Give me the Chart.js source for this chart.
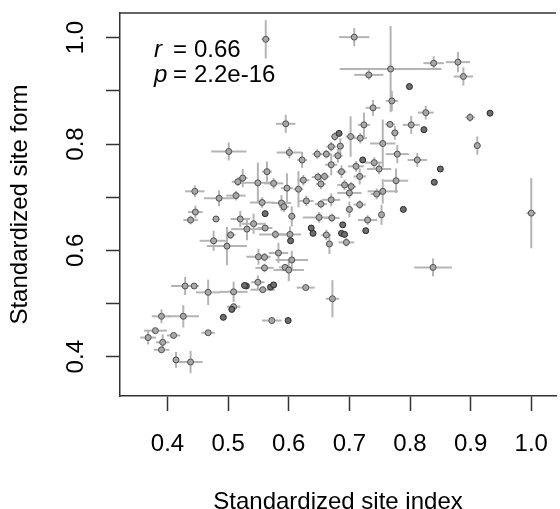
<!DOCTYPE html>
<html>
<head>
<meta charset="utf-8">
<title>Site form vs site index</title>
<script src="https://cdn.jsdelivr.net/npm/chart.js@4.4.1/dist/chart.umd.min.js"></script>
<style>
  html, body { margin: 0; padding: 0; background: #fff; }
  #wrap { width: 560px; height: 509px; }
</style>
</head>
<body>
<div id="wrap"><canvas id="siteChart" width="560" height="509"></canvas></div>
<script>
// Standardized site index (x) and its error half-widths
const siteIndex = [
  0.562, 0.595, 0.501, 0.601, 0.622, 0.647, 0.670, 0.676, 0.683, 0.685,
  0.445, 0.485, 0.513, 0.516, 0.524, 0.549, 0.564, 0.575, 0.597, 0.616,
  0.624, 0.556, 0.588, 0.629, 0.708, 0.768, 0.839, 0.879, 0.888, 0.732,
  0.799, 0.770, 0.739, 0.826, 0.899, 0.932, 0.823, 0.802, 0.767, 0.724,
  0.775, 0.702, 0.718, 0.755, 0.779, 0.812, 0.722, 0.741, 0.911, 0.850,
  0.840, 0.777, 0.749, 0.755, 0.745, 0.717, 0.789, 1.000, 0.700, 0.671,
  0.730, 0.753, 0.727, 0.689, 0.687, 0.692, 0.695, 0.667, 0.838, 0.672,
  0.681, 0.670, 0.687, 0.711, 0.717, 0.692, 0.700, 0.670, 0.703, 0.446,
  0.438, 0.480, 0.520, 0.542, 0.531, 0.561, 0.578, 0.602, 0.603, 0.561,
  0.605, 0.504, 0.476, 0.498, 0.550, 0.560, 0.583, 0.605, 0.560, 0.594,
  0.600, 0.429, 0.444, 0.467, 0.509, 0.530, 0.527, 0.549, 0.557, 0.570,
  0.575, 0.628, 0.509, 0.506, 0.492, 0.572, 0.599, 0.390, 0.426, 0.380,
  0.410, 0.368, 0.392, 0.390, 0.414, 0.438, 0.467, 0.648, 0.659, 0.653,
  0.592, 0.653, 0.650, 0.637, 0.640, 0.662, 0.662
];
const siteIndexErr = [
  0.007, 0.016, 0.029, 0.021, 0.008, 0.008, 0.008, 0.006, 0, 0.006,
  0.016, 0.025, 0.016, 0.010, 0.008, 0.033, 0.008, 0.016, 0.010, 0.008,
  0.010, 0.020, 0.016, 0.012, 0.025, 0.084, 0.017, 0.020, 0.016, 0.024,
  0, 0.010, 0.012, 0.013, 0.008, 0, 0, 0.014, 0.008, 0.010,
  0.006, 0.008, 0.011, 0.021, 0.019, 0.016, 0, 0.015, 0.005, 0,
  0, 0.020, 0.020, 0.025, 0.010, 0.010, 0, 0.008, 0.006, 0.013,
  0.016, 0.004, 0, 0, 0, 0, 0.013, 0.006, 0.031, 0.011,
  0.008, 0.010, 0.008, 0.013, 0.010, 0.012, 0.020, 0.015, 0.008, 0.012,
  0.012, 0.006, 0.016, 0.020, 0.026, 0.012, 0.027, 0.018, 0, 0,
  0.006, 0.008, 0.023, 0.033, 0.020, 0.008, 0.016, 0.027, 0.015, 0.010,
  0.025, 0.023, 0.006, 0.020, 0.023, 0, 0, 0.011, 0.020, 0,
  0, 0.015, 0.011, 0, 0, 0.016, 0, 0.016, 0.026, 0.019,
  0.011, 0.013, 0.011, 0.013, 0.004, 0.020, 0.011, 0.010, 0.008, 0.008,
  0.008, 0.010, 0.027, 0, 0, 0.008, 0.008
];
// Standardized site form (y) and its error half-heights
const siteForm = [
  0.997, 0.838, 0.786, 0.784, 0.770, 0.781, 0.795, 0.814, 0.820, 0.796,
  0.711, 0.698, 0.703, 0.729, 0.736, 0.727, 0.748, 0.726, 0.717, 0.715,
  0.732, 0.690, 0.689, 0.693, 1.001, 0.941, 0.952, 0.954, 0.927, 0.930,
  0.908, 0.881, 0.868, 0.859, 0.850, 0.858, 0.827, 0.836, 0.837, 0.836,
  0.821, 0.814, 0.811, 0.801, 0.781, 0.770, 0.770, 0.765, 0.797, 0.753,
  0.728, 0.731, 0.753, 0.711, 0.706, 0.686, 0.677, 0.670, 0.677, 0.661,
  0.657, 0.667, 0.637, 0.648, 0.632, 0.630, 0.615, 0.612, 0.568, 0.509,
  0.778, 0.761, 0.748, 0.758, 0.739, 0.723, 0.708, 0.695, 0.720, 0.672,
  0.657, 0.659, 0.659, 0.650, 0.640, 0.642, 0.630, 0.630, 0.618, 0.669,
  0.664, 0.629, 0.618, 0.608, 0.588, 0.587, 0.595, 0.582, 0.567, 0.568,
  0.563, 0.533, 0.533, 0.521, 0.522, 0.533, 0.534, 0.540, 0.526, 0.531,
  0.535, 0.530, 0.494, 0.489, 0.474, 0.468, 0.468, 0.476, 0.476, 0.449,
  0.440, 0.436, 0.427, 0.413, 0.394, 0.390, 0.445, 0.738, 0.739, 0.725,
  0.682, 0.687, 0.662, 0.642, 0.632, 0.629, 0.781
];
const siteFormErr = [
  0.036, 0.017, 0.017, 0.011, 0.015, 0.009, 0.009, 0.008, 0, 0.015,
  0.011, 0.015, 0.009, 0.008, 0.017, 0.038, 0.019, 0.010, 0.028, 0.034,
  0.010, 0.010, 0.015, 0.010, 0.017, 0.081, 0.013, 0.019, 0.017, 0.009,
  0, 0.019, 0.015, 0.013, 0.008, 0, 0, 0.017, 0.006, 0.023,
  0.013, 0.038, 0.010, 0.045, 0.017, 0.013, 0, 0.010, 0.017, 0,
  0, 0.023, 0.010, 0.023, 0.010, 0.008, 0, 0.066, 0.015, 0.008,
  0.009, 0.019, 0, 0, 0, 0, 0.008, 0.019, 0.017, 0.035,
  0.013, 0.020, 0.012, 0.010, 0.015, 0.010, 0.010, 0.012, 0.008, 0.012,
  0.008, 0.006, 0.015, 0.019, 0.021, 0.006, 0.008, 0.015, 0, 0,
  0.019, 0.008, 0.019, 0.036, 0.015, 0.008, 0.019, 0.017, 0.008, 0.006,
  0.021, 0.017, 0.004, 0.024, 0.019, 0, 0, 0.013, 0.006, 0,
  0, 0.004, 0.006, 0, 0, 0.006, 0, 0.013, 0.021, 0.004,
  0.004, 0.013, 0.015, 0, 0.015, 0.021, 0, 0.008, 0.008, 0.010,
  0.010, 0.008, 0.010, 0, 0, 0.010, 0.008
];

const xTicks = [0.4, 0.5, 0.6, 0.7, 0.8, 0.9, 1.0];
const yTicks = [0.4, 0.5, 0.6, 0.7, 0.8, 0.9, 1.0];
const yLabelled = ['0.4', '0.6', '0.8', '1.0'];
const stats = [['r', '0.66'], ['p', '2.2e-16']];

const FONT = '"Liberation Sans", Arial, Helvetica, sans-serif';
const AXIS = '#333333';

const points = siteIndex.map((x, i) => ({ x: x, y: siteForm[i] }));
// points measured without any spread come out darker in the original
const bare = siteIndex.map((_, i) => siteIndexErr[i] === 0 && siteFormErr[i] === 0);
const fills = bare.map(b => b ? '#6e6e6e' : '#a8a8a8');
const edges = bare.map(b => b ? '#262626' : '#505050');

// grey whiskers in both directions, drawn behind the points
const errorBars = {
  id: 'errorBars',
  beforeDatasetsDraw(chart) {
    const { ctx, scales: { x, y } } = chart;
    ctx.save();
    ctx.strokeStyle = '#b4b4b4';
    ctx.lineWidth = 2;
    siteIndex.forEach((v, i) => {
      const px = x.getPixelForValue(v);
      const py = y.getPixelForValue(siteForm[i]);
      if (siteIndexErr[i] > 0) {
        ctx.beginPath();
        ctx.moveTo(x.getPixelForValue(v - siteIndexErr[i]), py);
        ctx.lineTo(x.getPixelForValue(v + siteIndexErr[i]), py);
        ctx.stroke();
      }
      if (siteFormErr[i] > 0) {
        ctx.beginPath();
        ctx.moveTo(px, y.getPixelForValue(siteForm[i] - siteFormErr[i]));
        ctx.lineTo(px, y.getPixelForValue(siteForm[i] + siteFormErr[i]));
        ctx.stroke();
      }
    });
    ctx.restore();
  }
};

// top edge of the box plus the r / p text
const boxAndStats = {
  id: 'boxAndStats',
  afterDraw(chart) {
    const { ctx, chartArea: a } = chart;
    ctx.save();
    ctx.strokeStyle = AXIS;
    ctx.lineWidth = 1.5;
    ctx.beginPath();
    ctx.moveTo(a.left, a.top);
    ctx.lineTo(a.right, a.top);
    ctx.stroke();

    ctx.fillStyle = '#000';
    ctx.textBaseline = 'alphabetic';
    stats.forEach(([name, val], k) => {
      const base = a.top + 44 + k * 25;
      ctx.font = 'italic 24px ' + FONT;
      ctx.fillText(name, a.left + 34, base);
      ctx.font = '24px ' + FONT;
      ctx.fillText('=', a.left + 53, base);
      ctx.fillText(val, a.left + 74, base);
    });
    ctx.restore();
  }
};

new Chart(document.getElementById('siteChart'), {
  type: 'scatter',
  data: {
    datasets: [{
      data: points,
      pointRadius: 3,
      pointBorderWidth: 1,
      pointBackgroundColor: fills,
      pointBorderColor: edges,
      pointHoverRadius: 3
    }]
  },
  options: {
    responsive: false,
    animation: false,
    layout: { padding: { top: 13, left: 0, right: 0, bottom: 0 } },
    plugins: { legend: { display: false }, tooltip: { enabled: false } },
    scales: {
      x: {
        type: 'linear',
        position: 'bottom',
        min: 0.3216,
        max: 1.0408,
        afterFit(s) { s.height = 113; s.paddingLeft = 0; s.paddingRight = 0; },
        afterBuildTicks(s) { s.ticks = xTicks.map(v => ({ value: v })); },
        ticks: {
          autoSkip: false,
          minRotation: 0,
          maxRotation: 0,
          padding: 19,
          color: '#000',
          font: { family: FONT, size: 24 },
          callback: v => v.toFixed(1)
        },
        grid: { drawOnChartArea: false, drawTicks: true, tickLength: 15, tickColor: AXIS, tickWidth: 1.5 },
        border: { display: true, color: AXIS, width: 1.5 },
        title: {
          display: true,
          text: 'Standardized site index',
          color: '#000',
          font: { family: FONT, size: 24, lineHeight: 1 },
          padding: { top: 0, bottom: -5 }
        }
      },
      y: {
        type: 'linear',
        position: 'left',
        min: 0.3261,
        max: 1.0464,
        afterFit(s) { s.width = 120; s.paddingTop = 0; s.paddingBottom = 0; },
        afterBuildTicks(s) { s.ticks = yTicks.map(v => ({ value: v })); },
        ticks: {
          autoSkip: false,
          minRotation: 90,
          maxRotation: 90,
          crossAlign: 'center',
          padding: 13,
          color: '#000',
          font: { family: FONT, size: 24 },
          callback: v => {
            const t = v.toFixed(1);
            return yLabelled.includes(t) ? t : '';
          }
        },
        grid: { drawOnChartArea: false, drawTicks: true, tickLength: 14, tickColor: AXIS, tickWidth: 1.5 },
        border: { display: true, color: AXIS, width: 1.5 },
        title: {
          display: true,
          text: 'Standardized site form',
          color: '#000',
          font: { family: FONT, size: 24, lineHeight: 1 },
          padding: { top: 8, bottom: 0 }
        }
      }
    }
  },
  plugins: [errorBars, boxAndStats]
});
</script>
</body>
</html>
